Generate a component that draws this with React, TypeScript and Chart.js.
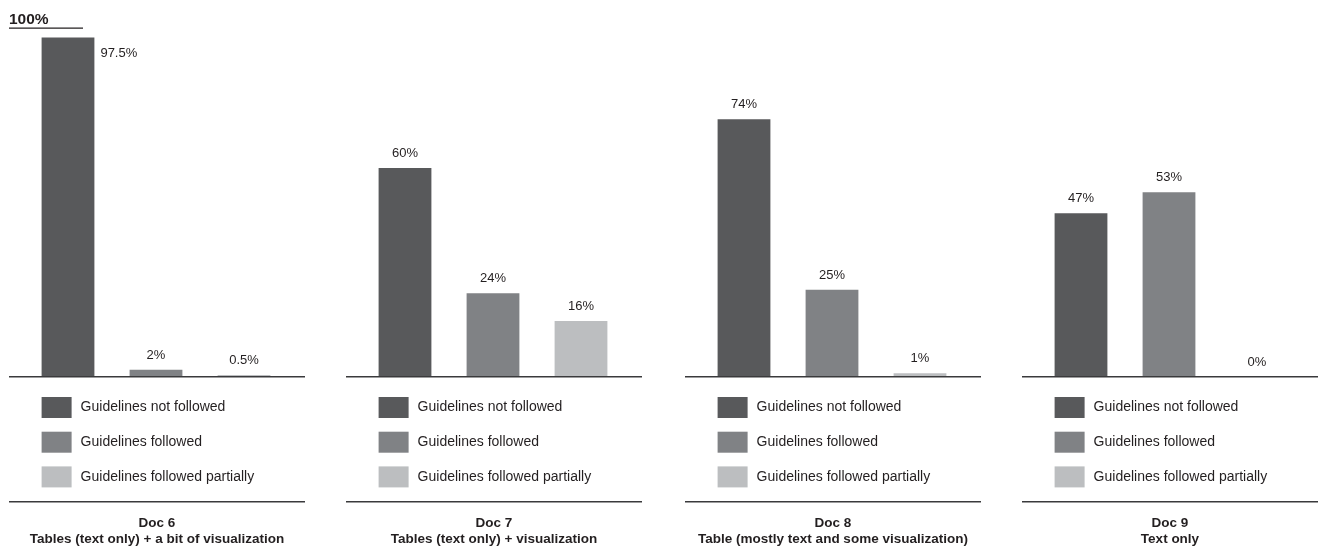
import React, { useEffect, useRef } from 'react';
import { Chart, registerables } from 'chart.js';

Chart.register(...registerables);

// ---- data ----
const docNames = ['Doc 6', 'Doc 7', 'Doc 8', 'Doc 9'];
const docDescriptions = [
  'Tables (text only) + a bit of visualization',
  'Tables (text only) + visualization',
  'Table (mostly text and some visualization)',
  'Text only',
];
const seriesLabels = ['Guidelines not followed', 'Guidelines followed', 'Guidelines followed partially'];
const notFollowed = [97.5, 60, 74, 47];
const followed = [2, 24, 25, 53];
const followedPartially = [0.5, 16, 1, 0];
const seriesValues = [notFollowed, followed, followedPartially];
const seriesColors = ['#58595b', '#808285', '#bcbec0'];
const scaleTopLabel = '100%';

// ---- layout ----
const PANEL_LEFT = [9, 346, 685, 1022];
const PANEL_WIDTH = 296;
const HEIGHT = 550;
const TEXT = '#231f20';
const FONT = '"Liberation Sans", Arial, sans-serif';

const panelDecor = {
  id: 'panelDecor',
  afterDatasetsDraw(chart: any, _args: any, opts: any) {
    const { ctx, chartArea, scales } = chart;
    const y0 = scales.y.getPixelForValue(0);
    const yTop = scales.y.getPixelForValue(100);
    ctx.save();

    // baseline
    ctx.strokeStyle = '#3a3a3c';
    ctx.lineWidth = 1.5;
    ctx.beginPath();
    ctx.moveTo(0, y0);
    ctx.lineTo(chart.width, y0);
    ctx.stroke();

    // value labels
    ctx.font = `13px ${FONT}`;
    ctx.fillStyle = TEXT;
    ctx.textBaseline = 'alphabetic';
    chart.data.datasets.forEach((ds: any, i: number) => {
      const meta = chart.getDatasetMeta(i);
      meta.data.forEach((bar: any, j: number) => {
        const v = ds.data[j];
        const text = `${v}%`;
        const { x, y, width } = bar.getProps(['x', 'y', 'width'], true);
        if (y - 24 < chartArea.top) {
          ctx.textAlign = 'left';
          ctx.fillText(text, x + width / 2 + 6, y + 20);
        } else {
          ctx.textAlign = 'center';
          ctx.fillText(text, x, y - 11);
        }
      });
    });

    // legend
    const first = chart.getDatasetMeta(0).data[0].getProps(['x', 'width'], true);
    const legendLeft = first.x - first.width / 2;
    ctx.font = `14px ${FONT}`;
    ctx.textAlign = 'left';
    ctx.textBaseline = 'middle';
    chart.data.datasets.forEach((ds: any, i: number) => {
      const top = y0 + 20.3 + i * 34.7;
      ctx.fillStyle = ds.backgroundColor;
      ctx.fillRect(legendLeft, top, 30, 21);
      ctx.fillStyle = TEXT;
      ctx.fillText(ds.label, legendLeft + 39, top + 10.5);
    });

    // separator
    ctx.strokeStyle = '#3a3a3c';
    ctx.lineWidth = 1.5;
    ctx.beginPath();
    ctx.moveTo(0, y0 + 125);
    ctx.lineTo(chart.width, y0 + 125);
    ctx.stroke();

    // titles
    ctx.fillStyle = TEXT;
    ctx.font = `bold 13.5px ${FONT}`;
    ctx.textAlign = 'center';
    ctx.textBaseline = 'alphabetic';
    ctx.fillText(opts.title, chart.width / 2, y0 + 150);
    ctx.fillText(opts.subtitle, chart.width / 2, y0 + 166.5);

    // top-of-scale marker
    if (opts.showTop) {
      ctx.font = `bold 15.5px ${FONT}`;
      ctx.textAlign = 'left';
      ctx.fillText(scaleTopLabel, 0, yTop - 4.5);
      ctx.strokeStyle = TEXT;
      ctx.lineWidth = 1.3;
      ctx.beginPath();
      ctx.moveTo(0, yTop - 0.5);
      ctx.lineTo(74, yTop - 0.5);
      ctx.stroke();
    }
    ctx.restore();
  },
};

function Panel({ index }: { index: number }) {
  const ref = useRef<HTMLCanvasElement | null>(null);
  useEffect(() => {
    if (!ref.current) return;
    const chart = new Chart(ref.current, {
      type: 'bar',
      data: {
        labels: [docNames[index]],
        datasets: seriesLabels.map((label, s) => ({
          label,
          data: [seriesValues[s][index]],
          backgroundColor: seriesColors[s],
          borderWidth: 0,
          categoryPercentage: 1,
          barPercentage: 0.6,
        })),
      },
      options: {
        responsive: false,
        animation: false,
        devicePixelRatio: 1,
        events: [],
        layout: { padding: { left: 15, right: 17, top: 28.7, bottom: 173.3 } },
        scales: {
          x: { display: false, offset: true },
          y: { display: false, min: 0, max: 100 },
        },
        plugins: {
          legend: { display: false },
          title: { display: false },
          tooltip: { enabled: false },
          panelDecor: {
            title: docNames[index],
            subtitle: docDescriptions[index],
            showTop: index === 0,
          },
        } as any,
      },
      plugins: [panelDecor],
    });
    return () => chart.destroy();
  }, [index]);
  return (
    <canvas
      ref={ref}
      width={PANEL_WIDTH}
      height={HEIGHT}
      style={{ position: 'absolute', left: PANEL_LEFT[index], top: 0, width: PANEL_WIDTH, height: HEIGHT }}
    />
  );
}

export default function App() {
  return (
    <div style={{ position: 'absolute', left: 0, top: 0, width: 1325, height: HEIGHT, background: '#fff' }}>
      {docNames.map((_, i) => (
        <Panel key={i} index={i} />
      ))}
    </div>
  );
}
